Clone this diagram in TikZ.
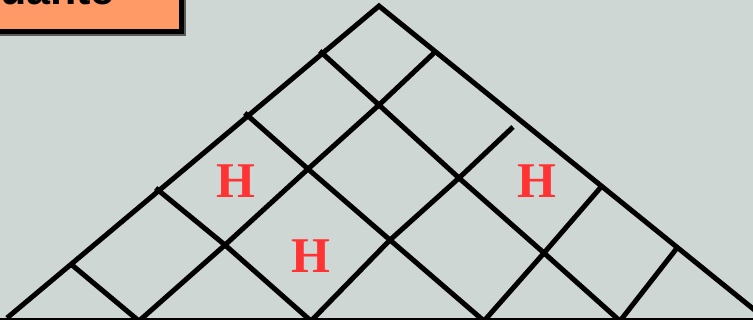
\documentclass[tikz,border=0pt]{standalone}
\usepackage{fontspec}
\setmainfont{Liberation Serif}
\newfontfamily\labelsans{Liberation Sans}
\definecolor{bgc}{RGB}{206,215,212}
\definecolor{boxorange}{RGB}{255,153,102}
\definecolor{hred}{RGB}{255,51,51}
\definecolor{shadowc}{RGB}{90,90,90}
\tikzset{
  lattice/.style={line width=5pt, black, line join=miter},
  tickline/.style={lattice, shorten <=-3pt},
  hmark/.style={text=hred, font=\fontsize{50}{50}\selectfont\bfseries, inner sep=0pt},
}
\begin{document}
\begin{tikzpicture}[x=1pt,y=-1pt]
\useasboundingbox (0,0) rectangle (753,320);
\fill[bgc] (0,0) rectangle (753,320);
% title box (cut off)
\fill[shadowc] (-60,-60) rectangle (186,36);
\draw[line width=5pt, fill=boxorange] (-60,-60) rectangle (181.5,31.5);
\node[anchor=base east, inner sep=0pt, font=\labelsans\fontsize{43}{43}\selectfont\bfseries] (title) at (115,5) {uante};
% coordinates
\coordinate (apex) at (379,6);
\coordinate (L0) at (7,318);
\coordinate (Rend) at (762,316);
\coordinate (P1) at (72,265);
\coordinate (P2) at (158,190);
\coordinate (P3) at (247,115);
\coordinate (P4) at (322,53);
\coordinate (Q1) at (435,52);
\coordinate (Q2) at (601,187);
\coordinate (Q3) at (677,248);
\coordinate (X1) at (225,245);
\coordinate (X2) at (308,169);
\coordinate (X3) at (379,105);
\coordinate (X4) at (390,240);
\coordinate (X5) at (459,178);
\coordinate (X6) at (544,253);
\coordinate (U2end) at (513,127);
\coordinate (B1) at (139,321);
\coordinate (B2) at (311,321);
\coordinate (B3) at (484,321);
\coordinate (B4) at (620,321);
% outline
\draw[lattice] (L0) -- (apex) -- (Rend);
% down-right lines
\draw[tickline] (P1) -- (B1);
\draw[tickline] (P2) -- (X1) -- (B2);
\draw[tickline] (P3) -- (X2) -- (X4) -- (B3);
\draw[tickline] (P4) -- (X3) -- (X5) -- (X6) -- (B4);
% up-right lines
\draw[lattice] (B1) -- (X1) -- (X2) -- (X3) -- (Q1);
\draw[lattice] (B2) -- (X4) -- (X5) -- (U2end);
\draw[lattice] (B3) -- (X6) -- (Q2);
\draw[lattice] (B4) -- (Q3);
% bottom line
\draw[line width=3pt] (0,319.5) -- (753,319.5);
% H marks
\node[hmark] (h1) at (236,181) {H};
\node[hmark] (h2) at (311,256) {H};
\node[hmark] (h3) at (537,181) {H};
\end{tikzpicture}
\end{document}
